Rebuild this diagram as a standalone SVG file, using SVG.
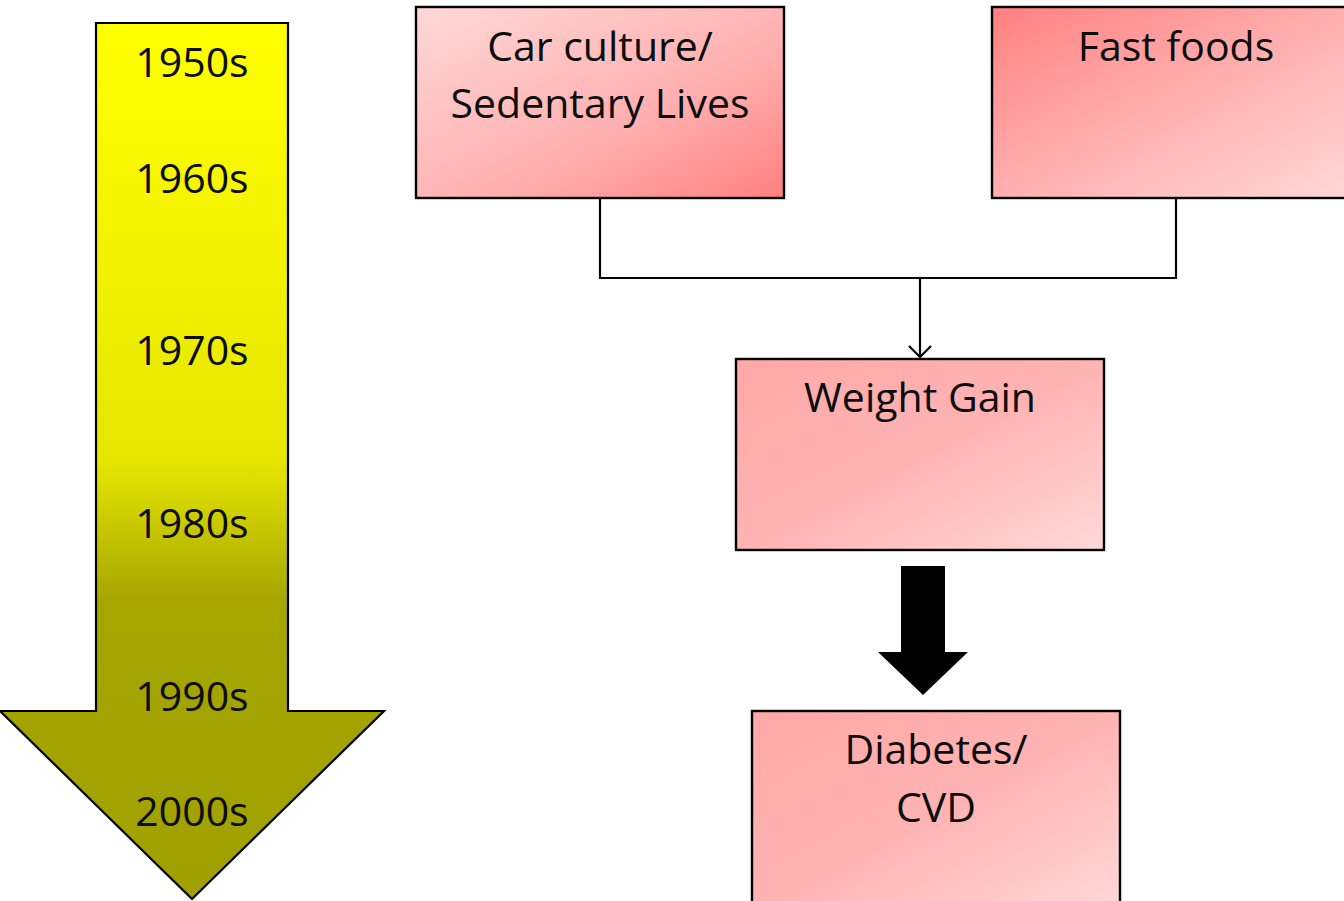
<svg xmlns="http://www.w3.org/2000/svg" width="1344" height="901" viewBox="0 0 1344 901">
  <defs>
    <linearGradient id="timeGrad" x1="0" y1="23" x2="0" y2="899" gradientUnits="userSpaceOnUse">
      <stop offset="0" stop-color="#FFFF00"/>
      <stop offset="0.5" stop-color="#E6E600"/>
      <stop offset="0.66" stop-color="#A6A600"/>
      <stop offset="1" stop-color="#A0A000"/>
    </linearGradient>
    <linearGradient id="pinkDown" x1="0" y1="0" x2="1" y2="1">
      <stop offset="0" stop-color="#FFD8D8"/>
      <stop offset="0.6" stop-color="#FFAFAF"/>
      <stop offset="1" stop-color="#FF8080"/>
    </linearGradient>
    <linearGradient id="pinkUp" x1="0" y1="0" x2="1" y2="1">
      <stop offset="0" stop-color="#FF8080"/>
      <stop offset="0.5" stop-color="#FFAFAF"/>
      <stop offset="1" stop-color="#FFD8D8"/>
    </linearGradient>
    <linearGradient id="pinkSoft" x1="0" y1="0" x2="1" y2="1">
      <stop offset="0" stop-color="#FFA8A8"/>
      <stop offset="0.5" stop-color="#FFB3B3"/>
      <stop offset="1" stop-color="#FFD8D8"/>
    </linearGradient>
    <!-- open chevron head, drawn pointing along +x and rotated to the path -->
    <marker id="openArrow" viewBox="0 0 20 24" refX="18" refY="12" markerWidth="20" markerHeight="24" markerUnits="userSpaceOnUse" orient="auto">
      <path d="M7 1 L18 12 L7 23" fill="none" stroke="#000" stroke-width="2.2"/>
    </marker>
    <style>
      .box { stroke: #000; stroke-width: 2.4; }
      .label { font-family: "Open Sans", "Noto Sans", sans-serif; font-size: 41px; fill: #0d0d0d; text-anchor: middle; }
      .wire { fill: none; stroke: #000; stroke-width: 2.2; }
    </style>
  </defs>

  <!-- timeline arrow -->
  <g id="timeline">
    <path d="M96 23 H288 V711 H384 L192 899 L0 711 H96 Z" fill="url(#timeGrad)" stroke="#000" stroke-width="2.2"/>
    <text class="label" x="192" y="77">1950s</text>
    <text class="label" x="192" y="193">1960s</text>
    <text class="label" x="192" y="365">1970s</text>
    <text class="label" x="192" y="538">1980s</text>
    <text class="label" x="192" y="711">1990s</text>
    <text class="label" x="192" y="826">2000s</text>
  </g>

  <g id="car-culture">
    <rect class="box" x="416" y="7" width="368" height="191" fill="url(#pinkDown)"/>
    <text class="label" x="600" y="61">Car culture/</text>
    <text class="label" x="600" y="118">Sedentary Lives</text>
  </g>

  <g id="fast-foods">
    <rect class="box" x="992" y="7" width="360" height="191" fill="url(#pinkUp)"/>
    <text class="label" x="1176" y="61">Fast foods</text>
  </g>

  <g id="weight-gain">
    <rect class="box" x="736" y="359" width="368" height="191" fill="url(#pinkSoft)"/>
    <text class="label" x="920" y="412">Weight Gain</text>
  </g>

  <g id="diabetes">
    <rect class="box" x="752" y="711" width="368" height="200" fill="url(#pinkSoft)"/>
    <text class="label" x="936" y="764">Diabetes/</text>
    <text class="label" x="936" y="822">CVD</text>
  </g>

  <g id="connectors">
    <path class="wire" d="M600 198 V278 H1176 V198"/>
    <path class="wire" d="M920 278 V357" marker-end="url(#openArrow)"/>
    <path d="M901 566 H945 V652 H968 L923 695 L878 652 H901 Z" fill="#000"/>
  </g>
</svg>
